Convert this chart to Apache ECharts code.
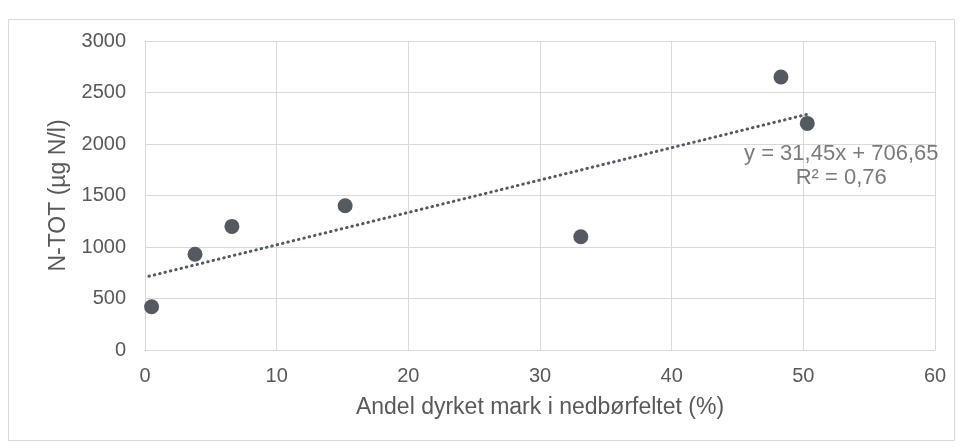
<!DOCTYPE html>
<html>
<head>
<meta charset="utf-8">
<script src="https://cdn.jsdelivr.net/npm/echarts@6/dist/echarts.min.js"></script>
<style>
  html, body { margin: 0; padding: 0; background: #fff; }
  #chart { width: 962px; height: 448px; }
</style>
</head>
<body>
<div id="chart"></div>
<script>
// data
const xValues = [0.5, 3.8, 6.6, 15.2, 33.1, 48.3, 50.3];
const yValues = [420, 930, 1200, 1400, 1100, 2650, 2200];
const trendSlope = 31.45;
const trendIntercept = 706.65;
const trendText = ['y = 31,45x + 706,65', 'R² = 0,76'];

const points = xValues.map((x, i) => [x, yValues[i]]);
const xMin = Math.min(...xValues) - 0.2;
const xMax = Math.max(...xValues);
const trend = [xMin, xMax].map(x => [x, trendSlope * x + trendIntercept]);

const chart = echarts.init(document.getElementById('chart'), null, { renderer: 'canvas' });

const font = 'Liberation Sans, Arial, sans-serif';
const grey = '#595959';

const option = {
  animation: false,
  backgroundColor: '#fff',
  graphic: [{
    type: 'rect',
    shape: { x: 8.5, y: 19.5, width: 946, height: 421 },
    style: { fill: 'none', stroke: '#d9d9d9', lineWidth: 1 }
  }],
  grid: { left: 145, right: 27, top: 41, bottom: 98 },
  xAxis: {
    type: 'value',
    min: 0, max: 60, interval: 10,
    name: 'Andel dyrket mark i nedbørfeltet (%)',
    nameLocation: 'middle',
    nameGap: 46,
    nameTextStyle: { color: grey, fontSize: 23, fontFamily: font },
    axisLine: { show: true, lineStyle: { color: '#d9d9d9' } },
    axisTick: { show: false },
    axisLabel: { color: grey, fontSize: 20, fontFamily: font, margin: 16, formatter: v => String(v) },
    splitLine: { show: true, lineStyle: { color: '#d9d9d9' } }
  },
  yAxis: {
    type: 'value',
    min: 0, max: 3000, interval: 500,
    name: 'N-TOT (µg N/l)',
    nameLocation: 'middle',
    nameGap: 70,
    nameTextStyle: { color: grey, fontSize: 23, fontFamily: font },
    axisLine: { show: false },
    axisTick: { show: false },
    axisLabel: { color: grey, fontSize: 20, fontFamily: font, margin: 19, formatter: v => String(v) },
    splitLine: { show: true, lineStyle: { color: '#d9d9d9' } }
  },
  series: [
    {
      type: 'line',
      data: trend,
      symbol: 'none',
      lineStyle: { color: '#555a60', width: 3, type: [0.5, 5], cap: 'round' },
      z: 3
    },
    {
      // holder for the trendline equation label, placed at the end of the trendline
      type: 'scatter',
      data: [trend[1]],
      symbolSize: 1,
      itemStyle: { color: 'rgba(0,0,0,0)' },
      silent: true,
      label: {
        show: true,
        position: 'inside',
        formatter: trendText.join('\n'),
        color: grey,
        fontSize: 22,
        fontFamily: font,
        lineHeight: 24,
        align: 'center',
        offset: [34, 52]
      },
      z: 5
    },
    {
      type: 'scatter',
      data: points,
      symbol: 'circle',
      symbolSize: 15,
      itemStyle: { color: '#555a60', opacity: 1 },
      z: 4
    }
  ]
};

chart.setOption(option);
</script>
</body>
</html>
